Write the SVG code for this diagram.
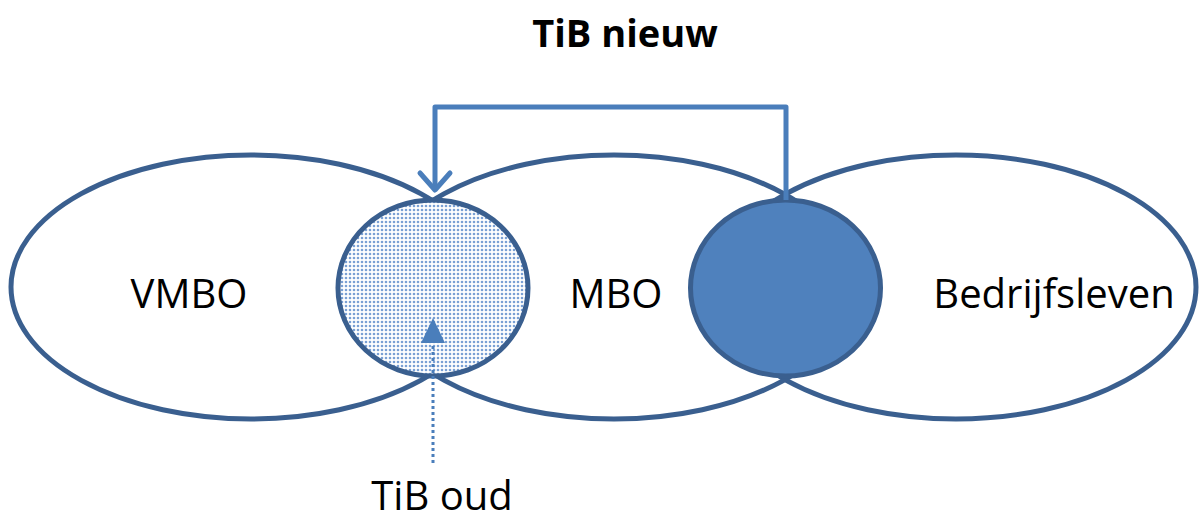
<svg xmlns="http://www.w3.org/2000/svg" width="1203" height="521" viewBox="0 0 1203 521">
  <defs>
    <pattern id="dots" width="4" height="4" patternUnits="userSpaceOnUse">
      <rect width="4" height="4" fill="#ffffff"/>
      <circle cx="2" cy="2" r="1.3" fill="#7aa0d4"/>
    </pattern>
  </defs>
  <style>
    .big { fill: #ffffff; stroke: #3a5f8f; stroke-width: 5; }
    .lbl { font-family: "Open Sans", "Liberation Sans", sans-serif; font-size: 40px; fill: #000000; text-anchor: middle; }
    .ttl { font-family: "Open Sans", "Liberation Sans", sans-serif; font-size: 38px; font-weight: bold; fill: #000000; text-anchor: middle; }
    .conn { fill: none; stroke: #4a7ebb; stroke-width: 5; }
  </style>
  <rect width="1203" height="521" fill="#ffffff"/>
  <g id="vmbo">
    <ellipse class="big" cx="251" cy="287" rx="240" ry="132"/>
  </g>
  <g id="bedrijfsleven">
    <ellipse class="big" cx="956" cy="287" rx="240" ry="132"/>
  </g>
  <g id="mbo">
    <ellipse class="big" cx="614" cy="287" rx="240" ry="132" style="fill:none"/>
  </g>
  <g id="tib-oud-circle">
    <ellipse cx="433" cy="288" rx="95" ry="88" fill="url(#dots)" stroke="#3a5f8f" stroke-width="5"/>
  </g>
  <g id="tib-nieuw-circle">
    <ellipse cx="785.5" cy="288" rx="95" ry="88" fill="#4f81bd" stroke="#3a5f8f" stroke-width="5"/>
  </g>
  <g id="connectors">
    <path class="conn" d="M786 200 V107 H435 V190" stroke-linejoin="round"/>
    <path d="M420 173 L435 190 L450 173" fill="none" stroke="#4a7ebb" stroke-width="5" stroke-linecap="round" stroke-linejoin="round"/>
    <line x1="433" y1="340" x2="433" y2="464" stroke="#4a7ebb" stroke-width="3" stroke-dasharray="3 3"/>
    <polygon points="433,318 421,343 445,343" fill="#4a7ebb"/>
  </g>
  <g id="labels">
    <text class="ttl" x="625" y="47">TiB nieuw</text>
    <text class="lbl" x="189" y="308">VMBO</text>
    <text class="lbl" x="616" y="308">MBO</text>
    <text class="lbl" x="1054" y="308">Bedrijfsleven</text>
    <text class="lbl" x="442" y="510">TiB oud</text>
  </g>
</svg>
